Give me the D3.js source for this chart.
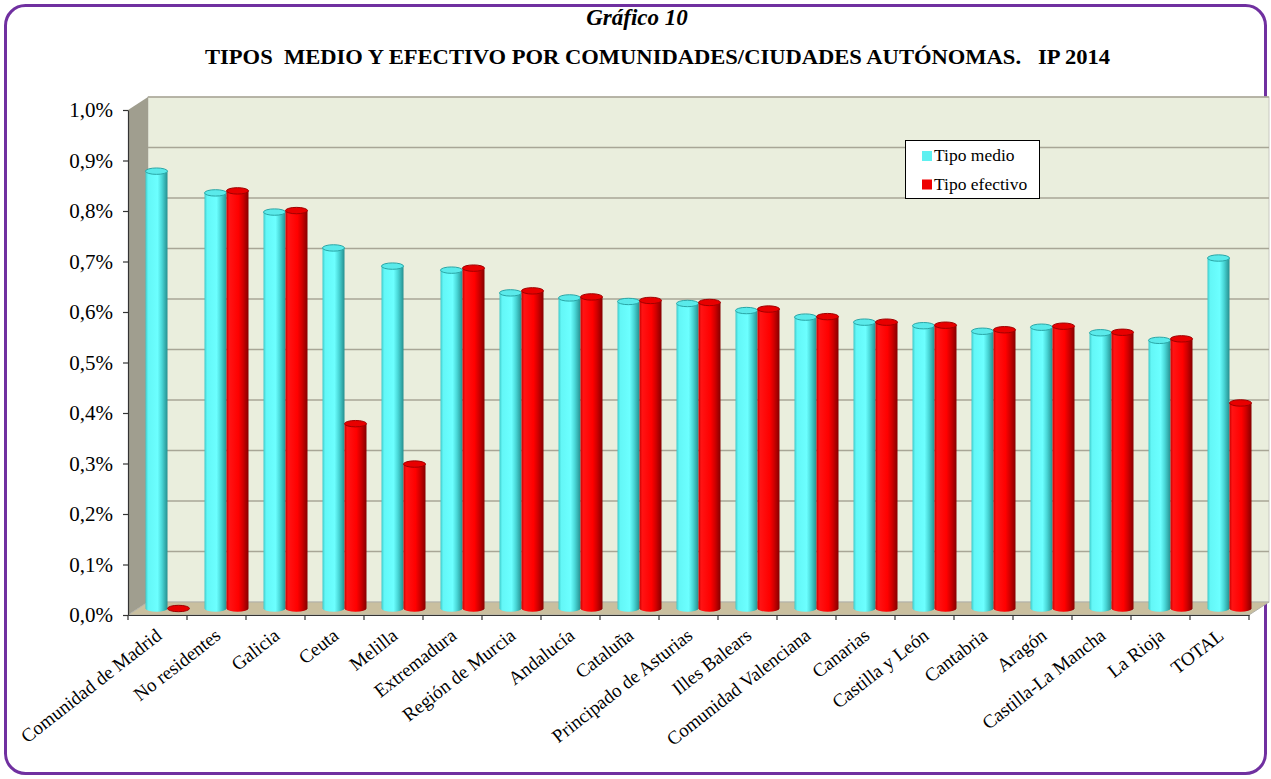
<!DOCTYPE html>
<html>
<head>
<meta charset="utf-8">
<script src="https://cdn.jsdelivr.net/npm/d3@7"></script>
<style>
  html, body { margin: 0; padding: 0; background: #ffffff; }
  svg { display: block; }
</style>
</head>
<body>
<svg id="chart" width="1271" height="779"></svg>
<script>
// ---- DATA ----
const categories = [
  "Comunidad de Madrid", "No residentes", "Galicia", "Ceuta", "Melilla",
  "Extremadura", "Región de Murcia", "Andalucía", "Cataluña",
  "Principado de Asturias", "Illes Balears", "Comunidad Valenciana",
  "Canarias", "Castilla y León", "Cantabria", "Aragón",
  "Castilla-La Mancha", "La Rioja", "TOTAL"
];
const tipoMedio = [0.866, 0.823, 0.785, 0.714, 0.678, 0.670, 0.625, 0.615, 0.608,
  0.604, 0.590, 0.577, 0.567, 0.560, 0.549, 0.557, 0.546, 0.531, 0.694];
const tipoEfectivo = [0.000, 0.827, 0.788, 0.366, 0.286, 0.674, 0.629, 0.617, 0.610,
  0.606, 0.593, 0.578, 0.567, 0.561, 0.552, 0.559, 0.547, 0.534, 0.407];
const seriesNames = ["Tipo medio", "Tipo efectivo"];
const yTicks = [0, 0.1, 0.2, 0.3, 0.4, 0.5, 0.6, 0.7, 0.8, 0.9, 1.0];
const titleLine1 = "Gráfico 10";
const titleLine2 = "TIPOS\u00a0\u00a0MEDIO Y EFECTIVO POR COMUNIDADES/CIUDADES AUTÓNOMAS.\u00a0\u00a0\u00a0IP 2014";

// ---- LAYOUT ----
const svg = d3.select("#chart");
const X0 = 128, X1 = 1249, Y0 = 615, Y1 = 110;
const DX = 20, DY = -13;       // depth of 3D box
const serif = "'Liberation Serif', 'Times New Roman', serif";

const x = d3.scaleBand().domain(categories).range([X0, X1]);
const y = d3.scaleLinear().domain([0, 1.0]).range([Y0, Y1]);
const bw = x.bandwidth();

const defs = svg.append("defs");
function grad(id, stops) {
  const g = defs.append("linearGradient").attr("id", id)
    .attr("x1", "0%").attr("x2", "100%").attr("y1", "0%").attr("y2", "0%");
  stops.forEach(s => g.append("stop").attr("offset", s[0]).attr("stop-color", s[1]));
}
grad("gCyan", [["0%", "#3fc9c9"], ["12%", "#63f7f7"], ["55%", "#6cffff"], ["75%", "#48d6d6"], ["100%", "#268f8f"]]);
grad("gRed", [["0%", "#c80000"], ["12%", "#ff1414"], ["55%", "#ff0000"], ["75%", "#d00000"], ["100%", "#850000"]]);

// Border frame
svg.append("rect").attr("x", 5.5).attr("y", 5.5).attr("width", 1260).attr("height", 768)
  .attr("rx", 20).attr("ry", 20).attr("fill", "#ffffff")
  .attr("stroke", "#7030a0").attr("stroke-width", 3);

// Titles
svg.append("text").attr("x", 637).attr("y", 25).attr("text-anchor", "middle")
  .attr("font-family", serif).attr("font-size", 23).attr("font-weight", "bold")
  .attr("font-style", "italic").text(titleLine1);
svg.append("text").attr("x", 657.5).attr("y", 64).attr("text-anchor", "middle")
  .attr("font-family", serif).attr("font-size", 22).attr("font-weight", "bold")
  .attr("textLength", 905).attr("lengthAdjust", "spacingAndGlyphs")
  .text(titleLine2);

// 3D box: back wall
svg.append("rect").attr("x", X0 + DX).attr("y", Y1 + DY)
  .attr("width", 1269 - (X0 + DX)).attr("height", Y0 - Y1)
  .attr("fill", "#eaeedd").attr("stroke", "#c8c8c0").attr("stroke-width", 1);
// side wall
svg.append("path")
  .attr("d", `M${X0},${Y1} L${X0 + DX},${Y1 + DY} L${X0 + DX},${Y0 + DY} L${X0},${Y0} Z`)
  .attr("fill", "#a09e8f");
// floor
svg.append("path")
  .attr("d", `M${X0},${Y0} L${X0 + DX},${Y0 + DY} L${X1 + DX},${Y0 + DY} L${X1},${Y0} Z`)
  .attr("fill", "#c9bf9f").attr("stroke", "#b0b0a8").attr("stroke-width", 1);

// gridlines on back wall
svg.append("g").selectAll("line").data(yTicks.filter(d => d > 0)).join("line")
  .attr("x1", X0 + DX).attr("x2", 1269)
  .attr("y1", d => y(d) + DY).attr("y2", d => y(d) + DY)
  .attr("stroke", "#a8a696").attr("stroke-width", 1.5);

// Cylinders
const ry = 3.2;
const barW = 22;
const bars = [];
categories.forEach((c, i) => {
  const cx = x(c) + bw / 2 + DX / 2;
  bars.push({ cat: c, s: 0, v: tipoMedio[i], x: cx - barW });
  bars.push({ cat: c, s: 1, v: tipoEfectivo[i], x: cx });
});
const gb = svg.append("g");
bars.forEach(b => {
  const base = Y0 + DY / 2;
  const top = y(b.v) + DY / 2;
  const g = gb.append("g");
  const w = barW, hx = w / 2;
  const fill = b.s === 0 ? "url(#gCyan)" : "url(#gRed)";
  if (b.v > 0) {
    g.append("path")
      .attr("d", `M${b.x},${top} L${b.x},${base} A${hx},${ry} 0 0 0 ${b.x + w},${base} L${b.x + w},${top} Z`)
      .attr("fill", fill);
  }
  g.append("ellipse").attr("cx", b.x + hx).attr("cy", top).attr("rx", hx).attr("ry", ry)
    .attr("fill", b.s === 0 ? "#5aeaea" : "#e80000")
    .attr("stroke", b.s === 0 ? "#2aa6a6" : "#a00000").attr("stroke-width", 1);
});

// Y axis
const yAxis = svg.append("g").attr("transform", `translate(${X0},0)`)
  .call(d3.axisLeft(y).tickValues(yTicks).tickSize(5).tickSizeOuter(0)
    .tickFormat(d => d.toFixed(1).replace(".", ",") + "%"));
yAxis.selectAll("path, line").attr("stroke", "#333").attr("stroke-width", 1.2);
yAxis.selectAll("text").attr("font-family", serif).attr("font-size", 21)
  .attr("fill", "#000").attr("x", -15).attr("dy", "0.33em");

// X axis
const xAxis = svg.append("g").attr("transform", `translate(0,${Y0})`)
  .call(d3.axisBottom(x).tickSize(0).tickSizeOuter(0));
xAxis.select("path").attr("stroke", "#333").attr("stroke-width", 1.2);
xAxis.selectAll("text")
  .attr("font-family", serif).attr("font-size", 19).attr("fill", "#000")
  .attr("text-anchor", "end")
  .attr("transform", `translate(${bw / 2 - 3},12) rotate(-38)`)
  .attr("x", 0).attr("y", 0).attr("dy", "0.72em");
xAxis.selectAll(".tick").attr("transform", d => `translate(${x(d)},0)`);
// tick marks at category boundaries
svg.append("g").selectAll("line").data(categories.concat(["__end"])).join("line")
  .attr("x1", d => d === "__end" ? X1 : x(d)).attr("x2", d => d === "__end" ? X1 : x(d))
  .attr("y1", Y0).attr("y2", Y0 + 5)
  .attr("stroke", "#333").attr("stroke-width", 1.2);

// Legend
const lg = svg.append("g");
lg.append("rect").attr("x", 905.5).attr("y", 140.5).attr("width", 134).attr("height", 58)
  .attr("fill", "#ffffff").attr("stroke", "#000").attr("stroke-width", 1);
const legColors = ["#5ef0f0", "#ee0000"];
seriesNames.forEach((n, i) => {
  lg.append("rect").attr("x", 922).attr("y", 151 + i * 28.5).attr("width", 10).attr("height", 10)
    .attr("fill", legColors[i]);
  lg.append("text").attr("x", 934).attr("y", 161 + i * 29)
    .attr("font-family", serif).attr("font-size", 17.5).attr("fill", "#000").text(n);
});
</script>
</body>
</html>
